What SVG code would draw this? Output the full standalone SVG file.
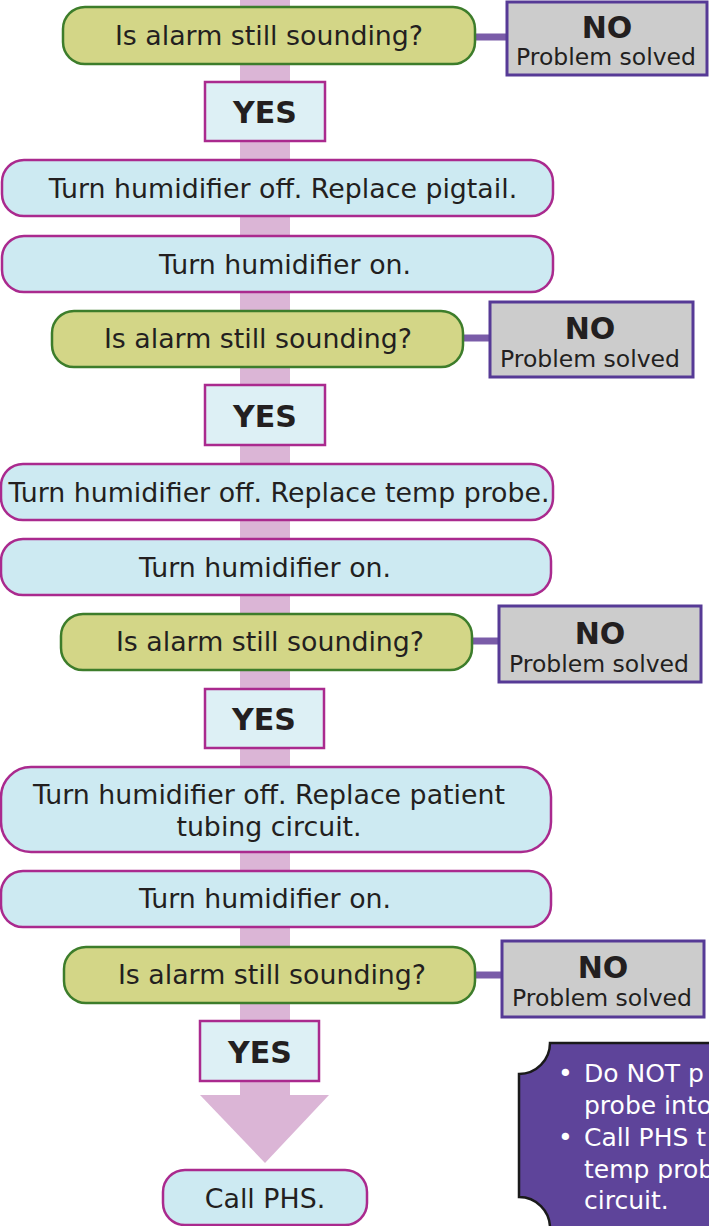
<svg xmlns="http://www.w3.org/2000/svg" width="709" height="1226" viewBox="0 0 709 1226">
<style>
text{font-family:"DejaVu Sans","Verdana",sans-serif;fill:#231f20;text-anchor:middle}
.t{font-size:26.8px}
.b{font-size:30px;font-weight:bold}
.ps{font-size:23.5px}
.act{fill:#cdeaf2;stroke:#aa2a8e;stroke-width:2.5}
.dec{fill:#d3d687;stroke:#3d7d2b;stroke-width:2.5}
.yes{fill:#ddf0f5;stroke:#aa2a8e;stroke-width:2.5}
.no{fill:#cccccc;stroke:#563a96;stroke-width:3}
.lnk{stroke:#7a5ca8;stroke-width:7;fill:none}
.note text{fill:#ffffff;font-size:25px;text-anchor:start}
</style>
<rect width="709" height="1226" fill="#ffffff"/>
<g id="connectors">
<rect x="240" y="0" width="50" height="1096" fill="#dbb5d6"/>
<polygon points="200,1095 329,1095 265,1163" fill="#dbb5d6"/>
<line class="lnk" x1="474" y1="37" x2="508" y2="37"/>
<line class="lnk" x1="462" y1="338" x2="491" y2="338"/>
<line class="lnk" x1="471" y1="641" x2="500" y2="641"/>
<line class="lnk" x1="474" y1="975" x2="503" y2="975"/>
</g>
<g id="decision1"><rect class="dec" x="63" y="7" width="412" height="57" rx="22"/><text class="t" x="269" y="45">Is alarm still sounding?</text></g>
<g id="no1"><rect class="no" x="507" y="2" width="200" height="73"/><text class="b" x="607" y="38">NO</text><text class="ps" x="606" y="65">Problem solved</text></g>
<g id="yes1"><rect class="yes" x="205" y="82" width="120" height="59"/><text class="b" x="265" y="123">YES</text></g>
<g id="action1"><rect class="act" x="2" y="160" width="551" height="56" rx="22"/><text class="t" x="283" y="198">Turn humidifier off. Replace pigtail.</text></g>
<g id="action2"><rect class="act" x="2" y="236" width="551" height="56" rx="22"/><text class="t" x="285" y="274">Turn humidifier on.</text></g>
<g id="decision2"><rect class="dec" x="52" y="311" width="411" height="56" rx="22"/><text class="t" x="258" y="348">Is alarm still sounding?</text></g>
<g id="no2"><rect class="no" x="490" y="302" width="203" height="75"/><text class="b" x="590" y="339">NO</text><text class="ps" x="590" y="367">Problem solved</text></g>
<g id="yes2"><rect class="yes" x="205" y="385" width="120" height="60"/><text class="b" x="265" y="427">YES</text></g>
<g id="action3"><rect class="act" x="1" y="464" width="552" height="56" rx="22"/><text class="t" x="279" y="502">Turn humidifier off. Replace temp probe.</text></g>
<g id="action4"><rect class="act" x="1" y="539" width="550" height="56" rx="22"/><text class="t" x="265" y="577">Turn humidifier on.</text></g>
<g id="decision3"><rect class="dec" x="61" y="614" width="411" height="56" rx="22"/><text class="t" x="270" y="651">Is alarm still sounding?</text></g>
<g id="no3"><rect class="no" x="499" y="606" width="202" height="76"/><text class="b" x="600" y="644">NO</text><text class="ps" x="599" y="672">Problem solved</text></g>
<g id="yes3"><rect class="yes" x="205" y="689" width="119" height="59"/><text class="b" x="264" y="730">YES</text></g>
<g id="action5"><rect class="act" x="1" y="767" width="550" height="85" rx="30"/><text class="t" x="269" y="804">Turn humidifier off. Replace patient</text><text class="t" x="269" y="836">tubing circuit.</text></g>
<g id="action6"><rect class="act" x="1" y="871" width="550" height="56" rx="22"/><text class="t" x="265" y="908">Turn humidifier on.</text></g>
<g id="decision4"><rect class="dec" x="64" y="947" width="411" height="56" rx="22"/><text class="t" x="272" y="984">Is alarm still sounding?</text></g>
<g id="no4"><rect class="no" x="502" y="941" width="202" height="76"/><text class="b" x="603" y="978">NO</text><text class="ps" x="602" y="1006">Problem solved</text></g>
<g id="yes4"><rect class="yes" x="200" y="1021" width="119" height="60"/><text class="b" x="260" y="1063">YES</text></g>
<g id="callphs"><rect class="act" x="163" y="1170" width="204" height="55" rx="22"/><text class="t" x="265" y="1208">Call PHS.</text></g>
<g id="note" class="note">
<path d="M550,1043 H712 V1228 H550 A31,31 0 0 0 519,1197 V1074 A31,31 0 0 0 550,1043 Z" fill="#5e449a" stroke="#1a1a1a" stroke-width="2.5"/>
<text x="558" y="1082">•</text>
<text x="584" y="1082">Do NOT p</text>
<text x="584" y="1114">probe into</text>
<text x="558" y="1146">•</text>
<text x="584" y="1146">Call PHS t</text>
<text x="584" y="1178">temp prob</text>
<text x="584" y="1209">circuit.</text>
</g>
</svg>
